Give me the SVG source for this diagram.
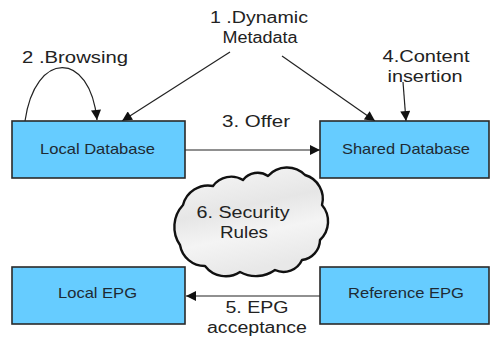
<svg xmlns="http://www.w3.org/2000/svg" width="491" height="342" viewBox="0 0 491 342">
  <style>
    .box { fill: #66ccff; stroke: #2a2a2a; stroke-width: 1.6; }
    .boxlabel { font-family: "Liberation Sans", Arial, sans-serif; font-size: 15px; fill: #1e2a33; text-anchor: middle; }
    .label { font-family: "Liberation Sans", Arial, sans-serif; font-size: 16px; fill: #222; text-anchor: middle; }
    .edge { fill: none; stroke: #222; stroke-width: 1.2; }
    .cloud { stroke: #111; stroke-width: 2.4; stroke-linejoin: round; }
  </style>
  <defs>
    <marker id="arrow" viewBox="0 0 10 10" refX="10" refY="5" markerWidth="11" markerHeight="10" markerUnits="userSpaceOnUse" orient="auto">
      <path d="M0,0 L10,5 L0,10 z" fill="#111"/>
    </marker>
    <linearGradient id="cloudFill" x1="0" y1="0" x2="0.3" y2="1">
      <stop offset="0" stop-color="#f8f8f8"/>
      <stop offset="0.45" stop-color="#e6e6e6"/>
      <stop offset="0.7" stop-color="#f4f4f4"/>
      <stop offset="1" stop-color="#e8e8e8"/>
    </linearGradient>
  </defs>

  <rect width="491" height="342" fill="#ffffff"/>

  <!-- connectors -->
  <g id="connectors">
    <path class="edge" d="M25,121 C35,50 90,50 97,120" marker-end="url(#arrow)"/>
    <line class="edge" x1="230" y1="52" x2="122" y2="121" marker-end="url(#arrow)"/>
    <line class="edge" x1="282" y1="56" x2="375" y2="121" marker-end="url(#arrow)"/>
    <line class="edge" x1="403" y1="82" x2="406" y2="121" marker-end="url(#arrow)"/>
    <line class="edge" x1="185" y1="150" x2="320" y2="150" marker-end="url(#arrow)"/>
    <line class="edge" x1="320" y1="296" x2="186" y2="296" marker-end="url(#arrow)"/>
  </g>

  <!-- connector labels -->
  <g id="labels">
    <text class="label" x="259" y="23" textLength="98" lengthAdjust="spacingAndGlyphs">1 .Dynamic</text>
    <text class="label" x="260" y="43" textLength="75" lengthAdjust="spacingAndGlyphs">Metadata</text>
    <text class="label" x="75" y="63" textLength="106" lengthAdjust="spacingAndGlyphs">2 .Browsing</text>
    <text class="label" x="256" y="127" textLength="68" lengthAdjust="spacingAndGlyphs">3. Offer</text>
    <text class="label" x="426" y="62" textLength="87" lengthAdjust="spacingAndGlyphs">4.Content</text>
    <text class="label" x="425" y="82" textLength="75" lengthAdjust="spacingAndGlyphs">insertion</text>
    <text class="label" x="257" y="313" textLength="63" lengthAdjust="spacingAndGlyphs">5. EPG</text>
    <text class="label" x="257" y="333" textLength="100" lengthAdjust="spacingAndGlyphs">acceptance</text>
  </g>

  <g id="security-rules">
    <path class="cloud" fill="url(#cloudFill)" d="M180,245
      A32,32 0 0 1 183,205
      A26,26 0 0 1 213,186
      A22.5,22.5 0 0 1 243,180
      A18.5,18.5 0 0 1 268,176
      A25.4,25.4 0 0 1 305,175
      A24.7,24.7 0 0 1 322,205
      A25.4,25.4 0 0 1 320,240
      A20.6,20.6 0 0 1 302,260
      A20.3,20.3 0 0 1 275,270
      A33,33 0 0 1 240,272
      A26,26 0 0 1 205,266
      A25.2,25.2 0 0 1 180,245 Z"/>
    <text class="label" x="243" y="218" textLength="93" lengthAdjust="spacingAndGlyphs">6. Security</text>
    <text class="label" x="244" y="238" textLength="48" lengthAdjust="spacingAndGlyphs">Rules</text>
  </g>

  <g id="local-database">
    <rect class="box" x="12" y="121" width="173" height="57"/>
    <text class="boxlabel" x="97.5" y="154" textLength="115" lengthAdjust="spacingAndGlyphs">Local Database</text>
  </g>

  <g id="shared-database">
    <rect class="box" x="320" y="121" width="169" height="57"/>
    <text class="boxlabel" x="406" y="154" textLength="128" lengthAdjust="spacingAndGlyphs">Shared Database</text>
  </g>

  <g id="local-epg">
    <rect class="box" x="12" y="267" width="173" height="57"/>
    <text class="boxlabel" x="97.5" y="298" textLength="79" lengthAdjust="spacingAndGlyphs">Local EPG</text>
  </g>

  <g id="reference-epg">
    <rect class="box" x="320" y="267" width="169" height="57"/>
    <text class="boxlabel" x="406" y="298" textLength="116" lengthAdjust="spacingAndGlyphs">Reference EPG</text>
  </g>
</svg>
